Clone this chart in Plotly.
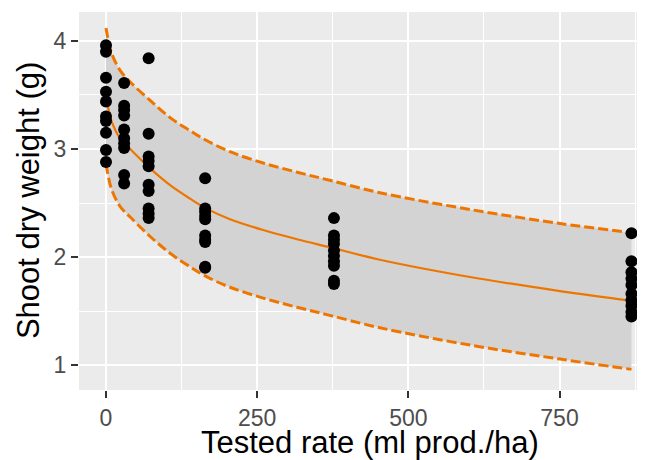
import plotly.graph_objects as go

rate_levels = [0, 30, 70.5, 164, 377, 869]
weights_by_rate = [
    [3.96, 3.90, 3.66, 3.53, 3.44, 3.30, 3.26, 3.15, 2.99, 2.88],
    [3.61, 3.40, 3.36, 3.31, 3.18, 3.10, 3.05, 3.01, 2.76, 2.68],
    [3.84, 3.14, 2.93, 2.89, 2.84, 2.67, 2.61, 2.45, 2.40, 2.36],
    [2.73, 2.45, 2.42, 2.38, 2.35, 2.20, 2.16, 2.14, 1.91, 1.90],
    [2.36, 2.20, 2.16, 2.12, 2.06, 2.01, 1.96, 1.92, 1.78, 1.75],
    [2.22, 1.96, 1.86, 1.80, 1.74, 1.66, 1.60, 1.55, 1.49, 1.45],
]

# Fitted curve and interval
curve_x = [0, 3, 9, 23, 40, 73, 106, 139, 164, 205, 260, 316, 370, 453, 602, 751, 869]
fit_y = [3.49, 3.40, 3.26, 3.10, 3.00, 2.82, 2.665, 2.54, 2.455, 2.35, 2.25, 2.165,
         2.09, 1.975, 1.815, 1.685, 1.595]
upper_y = [4.12, 4.03, 3.89, 3.73, 3.62, 3.45, 3.29, 3.17, 3.085, 2.975, 2.87, 2.785,
           2.71, 2.595, 2.44, 2.31, 2.225]
lower_y = [2.86, 2.77, 2.63, 2.47, 2.37, 2.19, 2.035, 1.91, 1.825, 1.72, 1.62, 1.535,
           1.46, 1.345, 1.185, 1.055, 0.96]

x_ticks = [0, 250, 500, 750]
y_ticks = [1, 2, 3, 4]

ORANGE = "#EE7600"
FONT = "Liberation Sans, Arial, sans-serif"

pts_x, pts_y = [], []
for r, ws in zip(rate_levels, weights_by_rate):
    for w in ws:
        pts_x.append(r)
        pts_y.append(w)

fig = go.Figure()
fig.add_trace(go.Scatter(x=curve_x, y=lower_y, mode="lines", line=dict(width=0, shape="spline"),
                         hoverinfo="skip", showlegend=False))
fig.add_trace(go.Scatter(x=curve_x, y=upper_y, mode="lines", line=dict(width=0, shape="spline"),
                         fill="tonexty", fillcolor="#D3D3D3", hoverinfo="skip", showlegend=False))
fig.add_trace(go.Scatter(x=curve_x, y=lower_y, mode="lines",
                         line=dict(color=ORANGE, width=3, dash="10px,4px", shape="spline"),
                         showlegend=False))
fig.add_trace(go.Scatter(x=curve_x, y=upper_y, mode="lines",
                         line=dict(color=ORANGE, width=3, dash="10px,4px", shape="spline"),
                         showlegend=False))
fig.add_trace(go.Scatter(x=curve_x, y=fit_y, mode="lines",
                         line=dict(color=ORANGE, width=2.2, shape="spline"), showlegend=False))
fig.add_trace(go.Scatter(x=pts_x, y=pts_y, mode="markers",
                         marker=dict(color="black", size=12), showlegend=False))

axis_common = dict(
    showline=False, zeroline=False, showgrid=True, gridcolor="white", gridwidth=2,
    ticks="outside", ticklen=7, tickwidth=2, tickcolor="#333333", automargin=False,
    tickfont=dict(family=FONT, size=23, color="#4D4D4D"),
)

# The page body has an 8px margin, so the figure is sized/offset to compensate.
fig.update_layout(
    width=637, height=452,
    margin=dict(l=71, r=0, t=4, b=70),
    paper_bgcolor="white", plot_bgcolor="#EBEBEB",
    font=dict(family=FONT),
    xaxis=dict(range=[-44.65, 891.4], tickvals=x_ticks, ticktext=[str(v) for v in x_ticks],
               minor=dict(tickvals=[125, 375, 625, 875], showgrid=True, gridcolor="white",
                          gridwidth=1, ticks=""),
               **axis_common),
    yaxis=dict(range=[0.769, 4.268], tickvals=y_ticks, ticktext=[str(v) for v in y_ticks],
               minor=dict(tickvals=[1.5, 2.5, 3.5], showgrid=True, gridcolor="white",
                          gridwidth=1, ticks=""),
               **axis_common),
    annotations=[
        dict(text="Tested rate (ml prod./ha)", xref="paper", yref="paper",
             x=0.514, y=-0.138, xanchor="center", yanchor="middle", showarrow=False,
             font=dict(family=FONT, size=31, color="black")),
        dict(text="Shoot dry weight (g)", xref="paper", yref="paper",
             x=-0.090, y=0.5, xanchor="center", yanchor="middle", showarrow=False,
             textangle=-90, font=dict(family=FONT, size=31, color="black")),
    ],
)

fig.write_html("out.html")
